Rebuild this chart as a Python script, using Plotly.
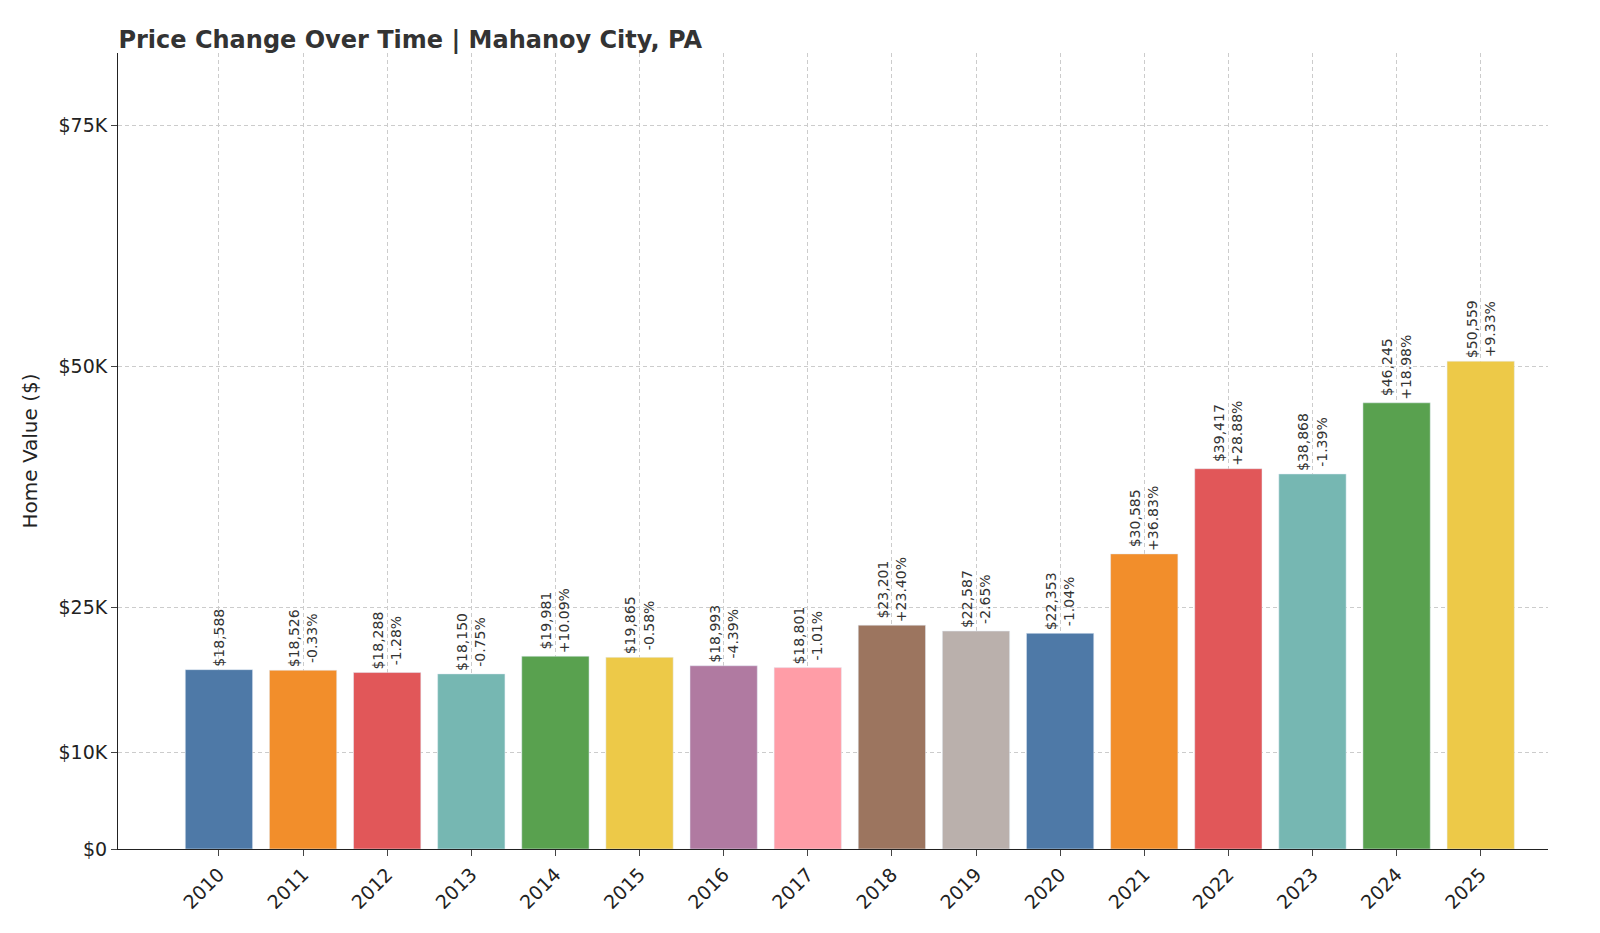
import plotly.graph_objects as go

years = [str(y) for y in range(2010, 2026)]
values = [18588, 18526, 18288, 18150, 19981, 19865, 18993, 18801, 23201, 22587,
          22353, 30585, 39417, 38868, 46245, 50559]
changes = [None, "-0.33%", "-1.28%", "-0.75%", "+10.09%", "-0.58%", "-4.39%", "-1.01%",
           "+23.40%", "-2.65%", "-1.04%", "+36.83%", "+28.88%", "-1.39%", "+18.98%", "+9.33%"]
palette = ["#4e79a7", "#f28e2b", "#e15759", "#76b7b2", "#59a14f", "#edc948",
           "#b07aa1", "#ff9da7", "#9c755f", "#bab0ac"]
colors = [palette[i % len(palette)] for i in range(len(years))]

labels = []
for v, c in zip(values, changes):
    t = "${:,}".format(v)
    if c:
        t += "<br>" + c
    labels.append(t)

fig = go.Figure(go.Bar(
    x=years, y=values, marker_color=colors, width=0.8,
    text=labels, textposition="outside", textangle=-90,
    textfont=dict(size=14, color="#333"), cliponaxis=False,
))

fig.update_layout(
    width=1600, height=933,
    plot_bgcolor="white", paper_bgcolor="white",
    font=dict(family="DejaVu Sans", color="#222"),
    title=dict(text="<b>Price Change Over Time | Mahanoy City, PA</b>",
               x=0.069, xanchor="left", y=0.975, font=dict(size=24, color="#333")),
    margin=dict(l=110, r=60, t=45, b=92),
    showlegend=False,
)
fig.update_xaxes(range=[-1.2, 15.8], tickangle=-45, tickfont=dict(size=19), showgrid=True,
                 gridcolor="#ccc", griddash="4px,3px", showline=True, linecolor="#222",
                 ticks="outside", ticklen=6)
fig.update_yaxes(range=[0, 82500], tickvals=[0, 10000, 25000, 50000, 75000],
                 ticktext=["$0", "$10K", "$25K", "$50K", "$75K"], tickfont=dict(size=19),
                 title=dict(text="Home Value ($)", font=dict(size=20)),
                 showgrid=True, gridcolor="#ccc", griddash="4px,3px", showline=True,
                 linecolor="#222", ticks="outside", ticklen=6, zeroline=False)

fig.write_html("out.html")
